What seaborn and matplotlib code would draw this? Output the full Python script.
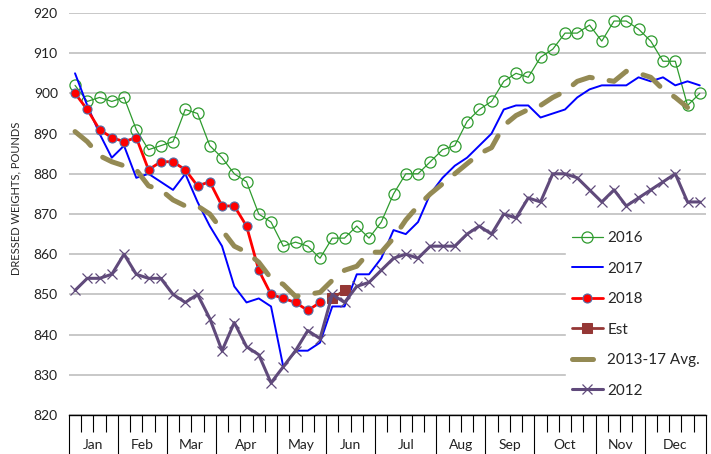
import numpy as np
import pandas as pd
import matplotlib
matplotlib.use("Agg")
import matplotlib.pyplot as plt
import seaborn as sns

# weekly dressed weights (pounds)
weeks = np.arange(1, 53)
y2016 = [902, 898, 899, 898, 899, 891, 886, 887, 888, 896, 895, 887, 884, 880, 878, 870,
         868, 862, 863, 862, 859, 864, 864, 867, 864, 868, 875, 880, 880, 883, 886, 887,
         893, 896, 898, 903, 905, 904, 909, 911, 915, 915, 917, 913, 918, 918, 916, 913,
         908, 908, 897, 900]
y2017 = [905, 897, 890, 884, 887, 879, 880, 878, 876, 880, 873, 867, 862, 852, 848, 849,
         847, 832, 836, 836, 838, 847, 847, 855, 855, 859, 866, 865, 868, 875, 879, 882,
         884, 887, 890, 896, 897, 897, 894, 895, 896, 899, 901, 902, 902, 902, 904, 903,
         904, 902, 903, 902]
y2018 = [900, 896, 891, 889, 888, 889, 881, 883, 883, 881, 877, 878, 872, 872, 867, 856,
         850, 849, 848, 846, 848]
est_weeks = [22, 23]
est = [849, 851]
avg = [890.5, 888, 884.5, 883, 882, 881, 877, 876, 873.5, 872, 872, 870, 866, 862, 860.5,
       858, 854, 852.5, 849.5, 850, 850.5, 853.5, 856, 857, 860.5, 860.5, 864, 868.5, 872,
       875, 877.5, 880, 882.5, 885, 886.5, 892, 894.5, 896, 897, 899, 900.5, 903, 904,
       903.5, 903, 905.5, 905, 904, 901, 899, 896.5]
y2012 = [851, 854, 854, 855, 860, 855, 854, 854, 850, 848, 850, 844, 836, 843, 837, 835,
         828, 832, 836, 841, 839, 850, 848, 852, 853, 856, 859, 860, 859, 862, 862, 862,
         865, 867, 865, 870, 869, 874, 873, 880, 880, 879, 876, 873, 876, 872, 874, 876,
         878, 880, 873, 873]

months = ["Jan", "Feb", "Mar", "Apr", "May", "Jun", "Jul", "Aug", "Sep", "Oct", "Nov", "Dec"]
weeks_per_month = [4, 4, 4, 5, 4, 4, 5, 4, 4, 5, 4, 5]

sns.set_style("white")
plt.rcParams["font.family"] = ["Lato", "DejaVu Sans"]

fig = plt.figure(figsize=(7.11, 4.54), dpi=100)
ax = fig.add_axes([68.9 / 711, 1 - 415 / 454, (705.9 - 68.9) / 711, 402 / 454])

sns.lineplot(x=weeks, y=y2016, ax=ax, color="#2E9B2E", lw=0.9, marker="o", ms=8,
             mfc="none", mec="#2E9B2E", mew=0.9, label="2016")
sns.lineplot(x=weeks, y=y2017, ax=ax, color="#0000FF", lw=1.4, label="2017")
sns.lineplot(x=weeks[:len(y2018)], y=y2018, ax=ax, color="#FF0000", lw=2.0, marker="o",
             ms=6.5, mfc="#FF0000", mec="#4F6FA8", mew=0.8, label="2018")
sns.lineplot(x=est_weeks, y=est, ax=ax, color="#953735", lw=2.0, marker="s", ms=6.5,
             mec="#953735", label="Est")
sns.lineplot(x=weeks[:len(avg)], y=avg, ax=ax, color="#948A54", lw=3.6,
             ls=(0, (4.2, 3.4)), dash_capstyle="round", label="2013-17 Avg.")
sns.lineplot(x=weeks, y=y2012, ax=ax, color="#604A7B", lw=2.2, marker="x", ms=7,
             mec="#604A7B", mew=0.9, label="2012")

ax.set_ylim(820, 920)
ax.set_yticks(np.arange(820, 921, 10))
ax.set_xlim(0.5, 52.5)
ax.grid(axis="y", color="#BFBFBF", lw=1.2)
ax.set_axisbelow(True)
for s in ["left", "right", "top"]:
    ax.spines[s].set_visible(False)
ax.spines["bottom"].set_color("black")
ax.spines["bottom"].set_linewidth(1.0)
ax.tick_params(axis="y", length=0, pad=8, labelsize=10, labelcolor="#222222")

# month boundaries as long ticks, week boundaries as short ticks
bounds = np.concatenate([[0.5], 0.5 + np.cumsum(weeks_per_month)])
ax.set_xticks(bounds)
ax.set_xticklabels([])
ax.set_xticks(np.arange(0.5, 53, 1), minor=True)
ax.tick_params(axis="x", which="both", bottom=True)
ax.tick_params(axis="x", which="major", direction="out", length=30, width=0.8, color="black")
ax.tick_params(axis="x", which="minor", direction="out", length=12, width=0.8, color="black")

centers = (bounds[:-1] + bounds[1:]) / 2
sec = ax.secondary_xaxis("bottom")
sec.set_xticks(centers)
sec.set_xticklabels(months)
sec.tick_params(length=0, pad=17.5, labelsize=10, labelcolor="#222222")
sec.spines["bottom"].set_visible(False)

ax.set_xlabel("")
ax.set_ylabel("DRESSED WEIGHTS, POUNDS", fontsize=8)
ax.yaxis.set_label_coords(-0.074, 0.54)

leg = ax.legend(loc="upper left", bbox_to_anchor=(566 / 711, 1 - 225 / 454),
                bbox_transform=fig.transFigure, fontsize=11, frameon=True, fancybox=False,
                handlelength=2.0, handletextpad=0.3, labelspacing=1.08, borderpad=0.4,
                borderaxespad=0)
leg.get_frame().set_facecolor("white")
leg.get_frame().set_edgecolor("white")
leg.get_frame().set_alpha(1)

fig.savefig("out.png", dpi=100)
